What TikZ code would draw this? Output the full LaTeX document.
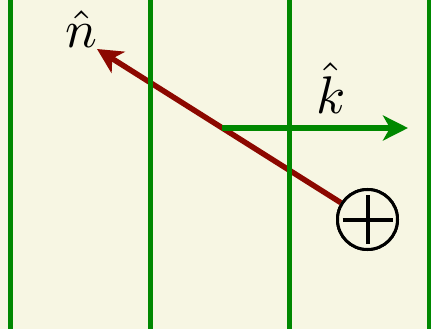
\documentclass[tikz,border=0pt]{standalone}
\usetikzlibrary{arrows.meta}
\definecolor{bgc}{RGB}{247,246,227}
\definecolor{grn}{RGB}{0,136,0}
\definecolor{rd}{RGB}{140,8,0}
\begin{document}
\begin{tikzpicture}[x=1pt,y=-1pt,
  wall/.style={grn,line width=5pt},
  vec/.style={line width=5.5pt,-{Stealth[length=25pt,width=25pt,inset=7pt]}},
  lab/.style={scale=5.3,anchor=base,inner sep=0pt},
  ring/.style={circle,draw=black,line width=3pt,fill=bgc,minimum size=60pt,inner sep=0pt}]
\fill[bgc] (0,0) rectangle (431,329);
\useasboundingbox (0,0) rectangle (431,329);
\coordinate (ntip) at (97,49);
\coordinate (kstart) at (222,128);
\coordinate (ktip) at (408,128);
\node[ring] (src) at (367.5,219.5) {};
\draw[vec,rd] (src) -- (ntip);
\draw[vec,grn] (kstart) -- (ktip);
\foreach \x/\n in {10/a,150/b,289.5/c,429.5/d}{
  \coordinate (top\n) at (\x,0);
  \coordinate (bot\n) at (\x,329);
  \draw[wall] (top\n) -- (bot\n);
}
\node[ring] (src2) at (src) {};
\draw[line width=4pt] ([xshift=-25pt]src.center) -- ([xshift=25pt]src.center);
\draw[line width=4pt] ([yshift=-24.5pt]src.center) -- ([yshift=24.5pt]src.center);
\node[lab] (nlab) at (81.5,47.5) {$\hat{n}$};
\node[lab] (klab) at (331,113) {$\hat{k}$};
\end{tikzpicture}
\end{document}
